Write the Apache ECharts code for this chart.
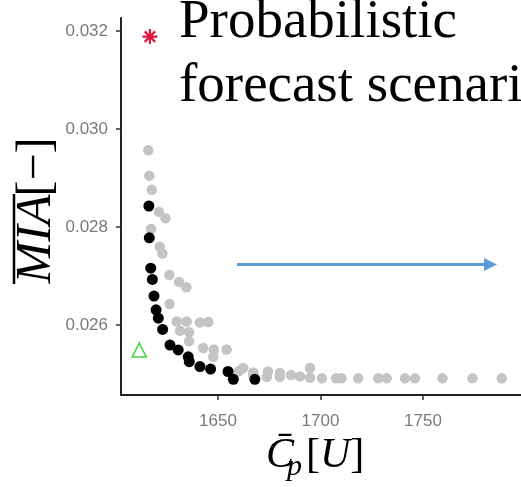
<!DOCTYPE html>
<html>
<head>
<meta charset="utf-8">
<script src="https://cdn.jsdelivr.net/npm/echarts@6/dist/echarts.min.js"></script>
<style>
  html, body { margin: 0; padding: 0; background: #fff; }
  #chart { width: 521px; height: 487px; }
</style>
</head>
<body>
<div id="chart"></div>
<script>
// black: selected solutions, gray: other scenario solutions
var blackX = [1616.3, 1616.5, 1617.2, 1618.0, 1618.8, 1619.8, 1620.9, 1623.0, 1626.6, 1630.6, 1635.5, 1636.0, 1641.2, 1646.4, 1654.9, 1657.5, 1668.0];
var blackY = [0.02843, 0.02778, 0.02716, 0.02693, 0.02659, 0.02631, 0.02614, 0.02591, 0.02559, 0.02549, 0.02535, 0.02525, 0.02515, 0.02510, 0.02505, 0.02489, 0.02489];

var grayX = [1616.0, 1616.5, 1617.7, 1621.2, 1624.4, 1617.4, 1621.6, 1622.9, 1626.3, 1631.0, 1634.6, 1626.4,
  1629.9, 1634.7, 1641.2, 1645.3, 1631.5, 1635.9, 1635.9, 1642.8, 1648.0, 1654.2, 1647.7, 1660.0,
  1662.3, 1667.2, 1667.1, 1674.4, 1673.8, 1680.2, 1680.2, 1685.6, 1690.0, 1694.9, 1694.9, 1700.7,
  1707.6, 1710.3, 1718.4, 1728.2, 1732.3, 1741.2, 1746.1, 1759.5, 1774.1, 1788.4];
var grayY = [0.02957, 0.02905, 0.02876, 0.02831, 0.02818, 0.02796, 0.02760, 0.02746, 0.02702, 0.02688, 0.02677, 0.02643,
  0.02607, 0.02607, 0.02605, 0.02606, 0.02588, 0.02585, 0.02567, 0.02553, 0.02550, 0.02550, 0.02535, 0.02505,
  0.02512, 0.02503, 0.02498, 0.02505, 0.02494, 0.02502, 0.02494, 0.02498, 0.02495, 0.02512, 0.02492, 0.02491,
  0.02491, 0.02491, 0.02491, 0.02491, 0.02491, 0.02491, 0.02491, 0.02491, 0.02491, 0.02491];

var starPoint = [1616.8, 0.03189];
var trianglePoint = [1611.6, 0.02549];

var xTicks = [1650, 1700, 1750];
var yTicks = [0.026, 0.028, 0.030, 0.032];

function zip(xs, ys) {
  return xs.map(function (x, i) { return [x, ys[i]]; });
}

var chart = echarts.init(document.getElementById('chart'));

var tickLabel = { color: '#7a7a7a', fontSize: 17, fontFamily: 'Liberation Sans' };
var axisLine = { lineStyle: { color: '#222', width: 2 } };
var asterisk = 'path://M10,0L10,20M0,10L20,10M3,3L17,17M3,17L17,3';

chart.setOption({
  backgroundColor: '#fff',
  animation: false,
  grid: { left: 121, top: 18, bottom: 92, right: 0 },
  xAxis: {
    type: 'value',
    min: 1602.7,
    max: 1797.8,
    axisLine: axisLine,
    axisTick: { customValues: xTicks, length: 5, lineStyle: { color: '#333', width: 1.5 } },
    axisLabel: Object.assign({
      customValues: xTicks, margin: 18,
      formatter: function (v) { return String(v); }
    }, tickLabel),
    splitLine: { show: false }
  },
  yAxis: {
    type: 'value',
    min: 0.02457,
    max: 0.03227,
    axisLine: Object.assign({ show: true }, axisLine),
    axisTick: { show: true, customValues: yTicks, length: 5, lineStyle: { color: '#333', width: 1.5 } },
    axisLabel: Object.assign({
      customValues: yTicks, margin: 13,
      formatter: function (v) { return v.toFixed(3); }
    }, tickLabel),
    splitLine: { show: false }
  },
  series: [{
    type: 'scatter',
    data: zip(grayX, grayY),
    symbolSize: 10.5,
    itemStyle: { color: '#c4c4c4', opacity: 1 }
  }, {
    type: 'scatter',
    data: zip(blackX, blackY),
    symbolSize: 11,
    itemStyle: { color: '#000', opacity: 1 }
  }, {
    type: 'scatter',
    data: [starPoint],
    symbol: asterisk,
    symbolSize: 15,
    itemStyle: { color: 'none', borderColor: '#e3173d', borderWidth: 2.2, opacity: 1 }
  }, {
    type: 'scatter',
    data: [trianglePoint],
    symbol: 'triangle',
    symbolSize: 14,
    itemStyle: { color: '#fff', borderColor: '#3ed63e', borderWidth: 1.5, opacity: 1 }
  }],
  graphic: [
    {
      type: 'text', x: 179, y: -9,
      style: {
        text: 'Probabilistic\nforecast scenarios',
        font: '55px "Liberation Serif"', fill: '#000',
        lineHeight: 64, verticalAlign: 'top'
      }
    },
    // arrow
    {
      type: 'line',
      shape: { x1: 237, y1: 264.5, x2: 486, y2: 264.5 },
      style: { stroke: '#5b9bd5', lineWidth: 3 }
    },
    {
      type: 'polygon',
      shape: { points: [[484, 258], [497, 264.5], [484, 271]] },
      style: { fill: '#5b9bd5' }
    },
    // y axis title
    {
      type: 'text', x: 37, y: 239, rotation: Math.PI / 2,
      style: {
        text: 'MIA', font: 'italic 50px "Liberation Serif"', fill: '#000',
        align: 'center', verticalAlign: 'middle'
      }
    },
    {
      type: 'line',
      shape: { x1: 14, y1: 194, x2: 14, y2: 284 },
      style: { stroke: '#000', lineWidth: 2.5 }
    },
    {
      type: 'text', x: 36, y: 167, rotation: Math.PI / 2,
      style: {
        text: '[−]', font: '48px "Liberation Serif"', fill: '#000',
        align: 'center', verticalAlign: 'middle'
      }
    },
    // x axis title
    {
      type: 'text', x: 266, y: 456,
      style: { text: 'C\u0304', font: 'italic 42px "Liberation Serif"', fill: '#000', verticalAlign: 'middle' }
    },
    {
      type: 'text', x: 287, y: 467,
      style: { text: 'p', font: 'italic 30px "Liberation Serif"', fill: '#000', verticalAlign: 'middle' }
    },
    {
      type: 'text', x: 306, y: 456,
      style: {
        text: '{n|[}{i|U}{n|]}', verticalAlign: 'middle',
        rich: {
          n: { font: '42px "Liberation Serif"', fill: '#000' },
          i: { font: 'italic 42px "Liberation Serif"', fill: '#000' }
        }
      }
    }
  ]
});
</script>
</body>
</html>
